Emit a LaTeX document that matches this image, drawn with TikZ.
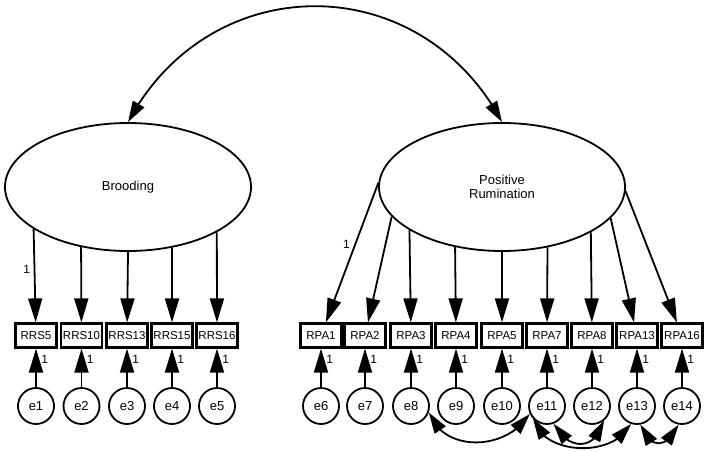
\documentclass[tikz,border=0pt]{standalone}
\usepackage{fontspec}
\setmainfont{Liberation Sans}
\usetikzlibrary{shapes.geometric,arrows.meta,bending}

\begin{document}
\begin{tikzpicture}[x=1pt,y=1pt,
  latent/.style={draw,line width=1.8pt,ellipse,fill=white,minimum width=246pt,minimum height=128pt,inner sep=0pt,align=center,font=\fontsize{13}{14}\selectfont},
  obs/.style={draw,line width=2.2pt,minimum width=41pt,minimum height=24pt,inner sep=0pt,font=\fontsize{11.5}{12}\selectfont},
  err/.style={draw,line width=1.8pt,circle,minimum size=36pt,inner sep=0pt,font=\fontsize{13}{13}\selectfont},
  load/.style={line width=1.8pt,-{Triangle[length=24pt,width=14pt]}},
  cov/.style={line width=1.8pt,{Triangle[length=21pt,width=13pt]}-{Triangle[length=21pt,width=13pt]}},
  one/.style={font=\fontsize{12}{12}\selectfont,inner sep=1.5pt}]
\useasboundingbox (0,0) rectangle (708,451);
% latent variables
\node[latent] (brood) at (128,264) {Brooding};
\node[latent] (posrum) at (502,264) {Positive\\Rumination};
\draw[cov] (brood.north) to[out=62,in=118,looseness=1.2] (posrum.north);
% observed items
\node[obs] (rrs5) at (36,115.5) {RRS5};
\node[obs] (rrs10) at (81.5,115.5) {RRS10};
\node[obs] (rrs13) at (127,115.5) {RRS13};
\node[obs] (rrs15) at (172,115.5) {RRS15};
\node[obs] (rrs16) at (217,115.5) {RRS16};
\node[obs] (rpa1) at (321,115.5) {RPA1};
\node[obs] (rpa2) at (365,115.5) {RPA2};
\node[obs] (rpa3) at (411,115.5) {RPA3};
\node[obs] (rpa4) at (456,115.5) {RPA4};
\node[obs] (rpa5) at (502,115.5) {RPA5};
\node[obs] (rpa7) at (547,115.5) {RPA7};
\node[obs] (rpa8) at (592,115.5) {RPA8};
\node[obs] (rpa13) at (637,115.5) {RPA13};
\node[obs] (rpa16) at (682,115.5) {RPA16};
% loadings
\draw[load] (brood.204.8) -- (rrs5) node[one,pos=0.43,left=2pt]{1};
\draw[load] (brood.232.2) -- (rrs10);
\draw[load] (brood.270) -- (rrs13);
\draw[load] (brood.306.4) -- (rrs15);
\draw[load] (brood.333.6) -- (rrs16);
\draw[load] (posrum.178) -- (rpa1) node[one,pos=0.44,left=3pt]{1};
\draw[load] (posrum.195) -- (rpa2);
\draw[load] (posrum.205.3) -- (rpa3);
\draw[load] (posrum.232.2) -- (rpa4);
\draw[load] (posrum.270) -- (rpa5);
\draw[load] (posrum.307) -- (rpa7);
\draw[load] (posrum.333) -- (rpa8);
\draw[load] (posrum.344) -- (rpa13);
\draw[load] (posrum.358) -- (rpa16);
% error terms
\node[err] (e1) at (36,45) {e1};
\node[err] (e2) at (81.5,45) {e2};
\node[err] (e3) at (127,45) {e3};
\node[err] (e4) at (172,45) {e4};
\node[err] (e5) at (217,45) {e5};
\node[err] (e6) at (321,45) {e6};
\node[err] (e7) at (365,45) {e7};
\node[err] (e8) at (411,45) {e8};
\node[err] (e9) at (456,45) {e9};
\node[err] (e10) at (502,45) {e10};
\node[err] (e11) at (547,45) {e11};
\node[err] (e12) at (592,45) {e12};
\node[err] (e13) at (637,45) {e13};
\node[err] (e14) at (682,45) {e14};
\draw[load] (e1) -- (rrs5) node[one,pos=0.72,right=3pt]{1};
\draw[load] (e2) -- (rrs10) node[one,pos=0.72,right=3pt]{1};
\draw[load] (e3) -- (rrs13) node[one,pos=0.72,right=3pt]{1};
\draw[load] (e4) -- (rrs15) node[one,pos=0.72,right=3pt]{1};
\draw[load] (e5) -- (rrs16) node[one,pos=0.72,right=3pt]{1};
\draw[load] (e6) -- (rpa1) node[one,pos=0.72,right=3pt]{1};
\draw[load] (e7) -- (rpa2) node[one,pos=0.72,right=3pt]{1};
\draw[load] (e8) -- (rpa3) node[one,pos=0.72,right=3pt]{1};
\draw[load] (e9) -- (rpa4) node[one,pos=0.72,right=3pt]{1};
\draw[load] (e10) -- (rpa5) node[one,pos=0.72,right=3pt]{1};
\draw[load] (e11) -- (rpa7) node[one,pos=0.72,right=3pt]{1};
\draw[load] (e12) -- (rpa8) node[one,pos=0.72,right=3pt]{1};
\draw[load] (e13) -- (rpa13) node[one,pos=0.72,right=3pt]{1};
\draw[load] (e14) -- (rpa16) node[one,pos=0.72,right=3pt]{1};
% error covariances
\draw[cov] (e8.-20) to[out=-70,in=-122,looseness=1.1] (e11.-155);
\draw[cov] (e11.-138) to[out=-75,in=-117] (e13.-108);
\draw[cov] (e11.-70) to[out=-61,in=-106,looseness=1.6] (e12.-50);
\draw[cov] (e13.-80) to[out=-70,in=-115,looseness=1.8] (e14.-100);
\end{tikzpicture}
\end{document}
